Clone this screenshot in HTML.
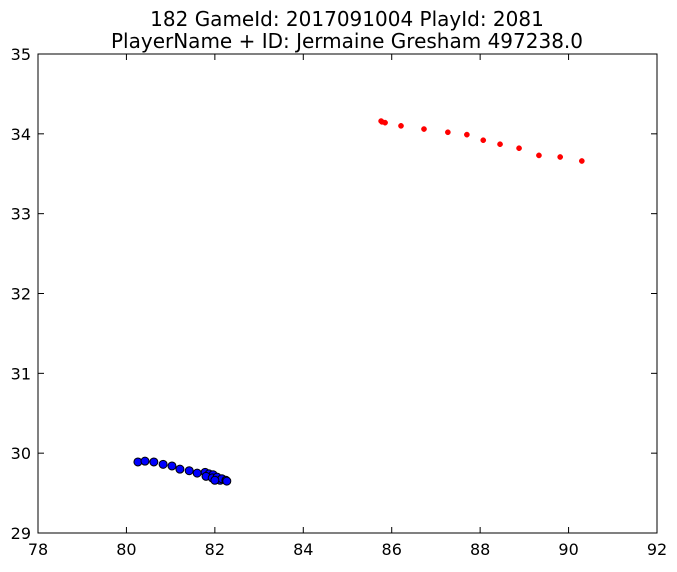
<!DOCTYPE html>
<html><head><meta charset="utf-8"><style>
body{margin:0;background:#fff;}
svg text{font-family:"DejaVu Sans","Liberation Sans",sans-serif;}
</style></head><body>
<svg id="chart" width="677" height="567" xmlns="http://www.w3.org/2000/svg">
<rect width="677" height="567" fill="#fff"/>
<text x="347" y="26" text-anchor="middle" font-size="20">182 GameId: 2017091004 PlayId: 2081</text>
<text x="347" y="48" text-anchor="middle" font-size="20">PlayerName + ID: Jermaine Gresham 497238.0</text>
<g id="axes"></g>
<g id="marks"></g>
<rect x="38" y="54" width="619" height="479" fill="none" stroke="#000" stroke-width="1"/>
</svg>
<script>
const xTicks=[78,80,82,84,86,88,90,92];
const yTicks=[29,30,31,32,33,34,35];
const redX=[85.76,85.78,85.85,86.21,86.73,87.27,87.70,88.07,88.45,88.88,89.33,89.81,90.30];
const redY=[34.16,34.15,34.14,34.10,34.06,34.02,33.99,33.92,33.87,33.82,33.73,33.71,33.66];
const blueX=[80.26,80.42,80.62,80.83,81.03,81.21,81.42,81.60,81.78,81.87,81.96,81.80,81.94,82.05,82.12,82.16,82.25,82.27,82.00];
const blueY=[29.89,29.90,29.89,29.86,29.84,29.80,29.78,29.75,29.76,29.74,29.73,29.71,29.69,29.70,29.66,29.68,29.66,29.65,29.66];
const L=38,R=657,T=54,B=533;
const sx=v=>L+(v-78)/(92-78)*(R-L);
const sy=v=>B-(v-29)/(35-29)*(B-T);
const NS="http://www.w3.org/2000/svg";
const ax=document.getElementById('axes'),mk=document.getElementById('marks');
function mkEl(t,a,p){const e=document.createElementNS(NS,t);for(const k in a)e.setAttribute(k,a[k]);p.appendChild(e);return e;}
xTicks.forEach(v=>{const x=sx(v);
 const t1=mkEl('line',{x1:x,x2:x,y1:B,y2:B-6,stroke:'#000'},ax);
 
 
 const t2=mkEl('line',{x1:x,x2:x,y1:T,y2:T+6,stroke:'#000'},ax);
 
 
 const lb=mkEl('text',{x:x,y:B+22,'text-anchor':'middle','font-size':'16'},ax);lb.textContent=v;
 
 
});
yTicks.forEach(v=>{const y=sy(v);
 const t1=mkEl('line',{x1:L,x2:L+6,y1:y,y2:y,stroke:'#000'},ax);
 
 
 const t2=mkEl('line',{x1:R,x2:R-6,y1:y,y2:y,stroke:'#000'},ax);
 
 
 const lb=mkEl('text',{x:L-7,y:y+6,'text-anchor':'end','font-size':'16'},ax);lb.textContent=v;
 
 
});
redX.forEach((v,i)=>{const c=mkEl('circle',{cx:sx(v),cy:sy(redY[i]),r:2.6,fill:'#f00',stroke:'#f00','stroke-width':0.5},mk);
 
 
});
blueX.forEach((v,i)=>{const c=mkEl('circle',{cx:sx(v),cy:sy(blueY[i]),r:4,fill:'#00f',stroke:'#000','stroke-width':1},mk);
 
 
});
</script>
</body></html>
